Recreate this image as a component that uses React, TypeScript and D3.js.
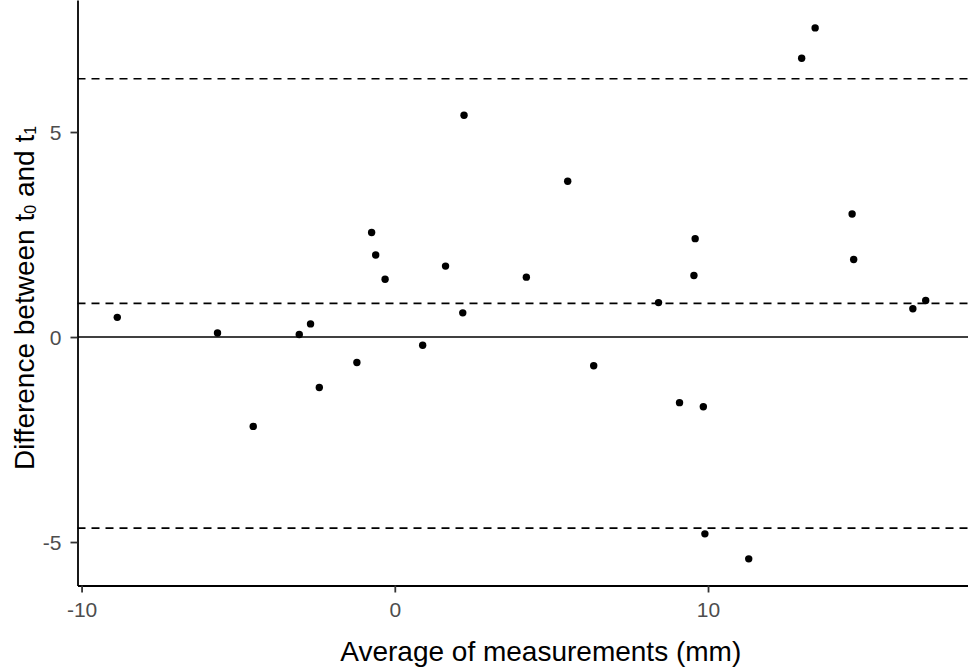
import { useEffect, useRef } from 'react';
import * as d3 from 'd3';

// average of the two measurements (mm) and the difference t0 - t1
const avgMeasure = [
  -8.86, -5.66, -3.05, -2.69, -0.74, -0.61, -0.31, 1.62, 2.17, 2.21,
  13.42, 12.99, 5.52, 14.6, 9.59, 14.65, 4.2, 9.55, 8.42, 16.54, 16.95,
  0.89, -1.21, -2.41, -4.52,
  6.35, 9.09, 9.85, 9.9, 11.3,
];
const diffMeasure = [
  0.48, 0.1, 0.06, 0.32, 2.55, 2.0, 1.41, 1.73, 0.59, 5.41,
  7.54, 6.8, 3.8, 3.0, 2.4, 1.89, 1.46, 1.5, 0.84, 0.69, 0.89,
  -0.2, -0.62, -1.23, -2.18,
  -0.7, -1.6, -1.7, -4.8, -5.41,
];

// mean difference and limits of agreement
const meanDiff = 0.82;
const limits = [6.3, -4.66];

const xTicks = [-10, 0, 10];
const yTicks = [-5, 0, 5];

const W = 968;
const H = 667;

const BlandAltman = () => {
  const svgRef = useRef<SVGSVGElement>(null);

  useEffect(() => {
    if (!svgRef.current) return;
    const svg = d3.select(svgRef.current);
    svg.selectAll('*').remove();

    const left = 77.5;
    const right = 968;
    const top = 0;
    const bottom = 585.5;

    const x = d3.scaleLinear().domain([-10.13, 18.3]).range([left, right]);
    const y = d3.scaleLinear().domain([-6.06, 8.22]).range([bottom, top]);

    const font = 'Liberation Sans, Arial, sans-serif';

    // reference lines
    svg.append('line')
      .attr('x1', left).attr('x2', right)
      .attr('y1', y(0)).attr('y2', y(0))
      .attr('stroke', '#000').attr('stroke-width', 1.6);

    svg.selectAll('line.dash')
      .data([meanDiff, ...limits])
      .enter().append('line')
      .attr('class', 'dash')
      .attr('x1', left).attr('x2', right)
      .attr('y1', d => y(d)).attr('y2', d => y(d))
      .attr('stroke', '#000').attr('stroke-width', 1.6)
      .attr('stroke-dasharray', '8,6');

    // points
    svg.append('g')
      .selectAll('circle')
      .data(avgMeasure.map((a, i) => [a, diffMeasure[i]]))
      .enter().append('circle')
      .attr('cx', d => x(d[0]))
      .attr('cy', d => y(d[1]))
      .attr('r', 3.7)
      .attr('fill', '#000');

    // axes
    const xAxis = svg.append('g')
      .attr('transform', `translate(0,${bottom})`)
      .call(d3.axisBottom(x).tickValues(xTicks).tickSize(7).tickSizeOuter(0).tickPadding(10).tickFormat(d3.format('d')));

    const yAxis = svg.append('g')
      .attr('transform', `translate(${left},0)`)
      .call(d3.axisLeft(y).tickValues(yTicks).tickSize(7).tickSizeOuter(0).tickPadding(9).tickFormat(d3.format('d')));

    [xAxis, yAxis].forEach(g => {
      g.select('.domain').attr('stroke', '#000').attr('stroke-width', 1.8);
      g.selectAll('.tick line').attr('stroke', '#333').attr('stroke-width', 1.8);
      g.selectAll('.tick text')
        .attr('fill', '#4d4d4d')
        .attr('font-family', font)
        .attr('font-size', 21);
    });
    xAxis.selectAll('.tick text').attr('dy', '0.71em');
    yAxis.selectAll('.tick text').attr('dy', '0.35em');
    // ggplot writes the minus as a hyphen
    svg.selectAll('.tick text').text((d: any) => String(d).replace('\u2212', '-'));

    // axis titles
    svg.append('text')
      .attr('x', (left + right) / 2 + 18)
      .attr('y', 661)
      .attr('text-anchor', 'middle')
      .attr('font-family', font)
      .attr('font-size', 28)
      .attr('fill', '#000')
      .text('Average of measurements (mm)');

    const yTitle = svg.append('text')
      .attr('transform', `translate(34,298) rotate(-90)`)
      .attr('text-anchor', 'middle')
      .attr('font-family', font)
      .attr('font-size', 28)
      .attr('fill', '#000');
    yTitle.append('tspan').text('Difference between t');
    yTitle.append('tspan').attr('font-size', 16).attr('dy', 2).text('0');
    yTitle.append('tspan').attr('dy', -2).text(' and t');
    yTitle.append('tspan').attr('font-size', 16).attr('dy', 2).text('1');
  }, []);

  return (
    <svg
      ref={svgRef}
      width={W}
      height={H}
      style={{ position: 'absolute', left: 0, top: 0, background: '#fff' }}
    />
  );
};

export default function App() {
  return <BlandAltman />;
}
